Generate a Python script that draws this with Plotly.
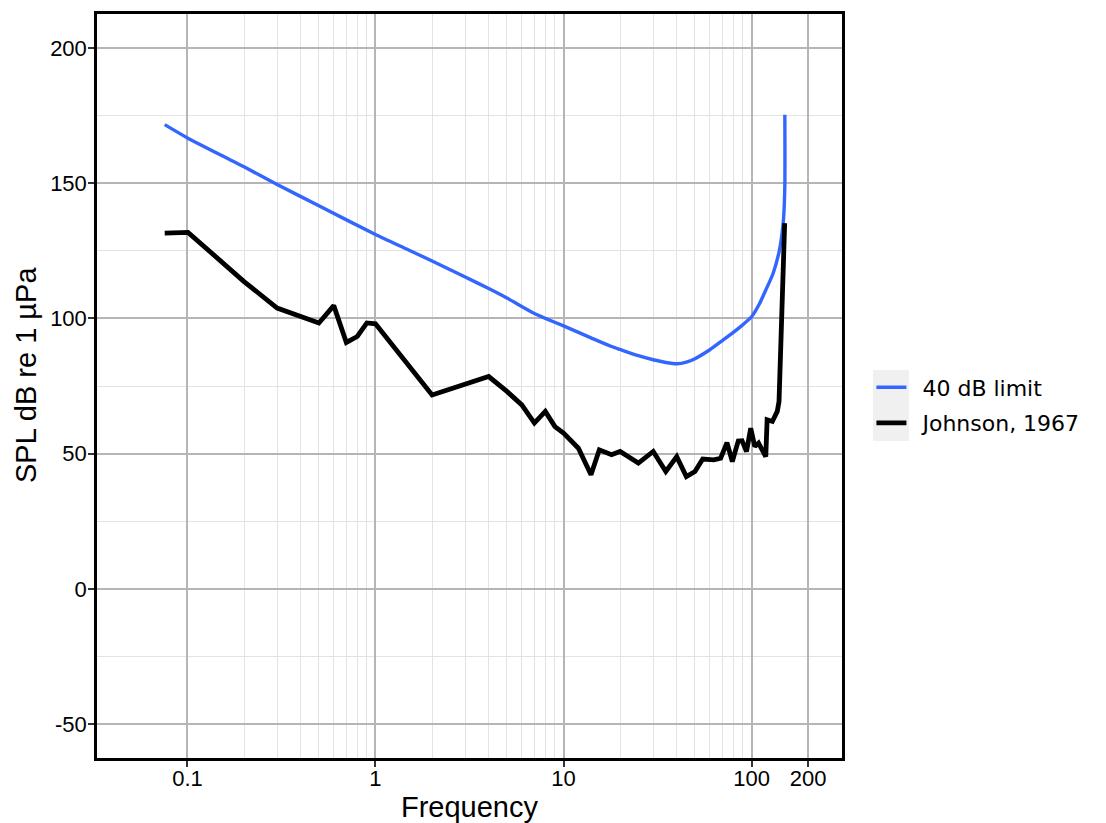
import plotly.graph_objects as go

# ---- data ----
freq_limit = [0.0757, 0.1, 0.2, 0.3, 0.5, 1, 1.5, 2, 3, 4, 5, 7, 8, 10, 14, 18, 20,
              25, 30, 35, 40, 45, 50, 60, 70, 80, 90, 100, 110, 120, 130, 140,
              145, 148, 149.5, 150.4, 150.5, 150.3]
spl_limit = [171.6, 166.7, 156.0, 149.5, 141.6, 131.0, 125.3, 121.2, 115.3, 111.0,
             107.5, 101.8, 100.0, 97.2, 92.8, 89.6, 88.5, 86.2, 84.7, 83.7, 83.2,
             83.8, 85.1, 88.4, 91.8, 94.8, 97.7, 100.6, 105.3, 111.0, 116.5, 124.5,
             131.0, 137.0, 143.0, 150.0, 162.0, 175.3]

freq_johnson = [0.0757, 0.1007, 0.2, 0.3, 0.5, 0.6, 0.7, 0.8, 0.9, 1.0, 2.0, 4.0,
                5.0, 6.0, 7.0, 8.0, 9.0, 10.0, 12.0, 14.0, 15.5, 18.0, 20.0, 25.0,
                30.0, 35.0, 40.0, 45.0, 50.0, 55.0, 63.0, 68.5, 74.0, 79.0, 85.0,
                89.0, 94.0, 99.0, 104.0, 109.0, 119.0, 121.0, 129.0, 137.0, 140.0,
                142.0, 150.0]
spl_johnson = [131.5, 131.8, 113.6, 103.8, 98.3, 104.7, 91.1, 93.3, 98.3, 98.0,
               71.7, 78.5, 73.0, 68.0, 61.3, 65.6, 60.0, 57.6, 52.0, 42.2, 51.4,
               49.6, 50.8, 46.5, 50.8, 43.4, 48.9, 41.5, 43.4, 48.0, 47.7, 48.3,
               54.1, 47.1, 54.7, 54.8, 50.8, 59.4, 52.6, 53.9, 48.9, 62.5, 61.9,
               65.6, 69.3, 82.2, 135.2]

series_names = ["40 dB limit", "Johnson, 1967"]

x_tickvals = [0.1, 1, 10, 100, 200]
x_ticktext = ["0.1", "1", "10", "100", "200"]
x_minor = [0.2, 0.3, 0.4, 0.5, 0.6, 0.7, 0.8, 0.9,
           2, 3, 4, 5, 6, 7, 8, 9,
           20, 30, 40, 50, 60, 70, 80, 90]
y_tickvals = [-50, 0, 50, 100, 150, 200]
y_ticktext = ["-50", "0", "50", "100", "150", "200"]
y_minor = [-25, 25, 75, 125, 175]

fig = go.Figure()
fig.add_trace(go.Scatter(x=freq_limit, y=spl_limit, mode="lines",
                         name="\u2002" + series_names[0], legendgroup="a",
                         line=dict(color="#3366FF", width=3.4,
                                   shape="spline", smoothing=0.6)))
fig.add_trace(go.Scatter(x=freq_johnson, y=spl_johnson, mode="lines",
                         name="\u2002" + series_names[1], legendgroup="b",
                         line=dict(color="black", width=4.8)))

# grey legend-key background (ggplot style)
fig.add_shape(type="rect", xref="paper", yref="paper",
              x0=1.0416, x1=1.0899, y0=0.4261, y1=0.5215,
              fillcolor="#F0F0F0", line=dict(width=0), layer="below")

# y axis title placed as a rotated annotation
fig.add_annotation(text="SPL dB re 1 µPa", textangle=-90,
                   xref="paper", yref="paper", x=-0.0953, y=0.5148,
                   xanchor="center", yanchor="middle", showarrow=False,
                   font=dict(size=29, color="black",
                             family="Liberation Sans, Arial"))

axis_common = dict(
    showgrid=True, gridcolor="#B5B5B5", gridwidth=1.5,
    showline=True, linecolor="black", linewidth=2.5, mirror=True,
    ticks="outside", ticklen=6, tickwidth=1.5, tickcolor="#333333",
    tickfont=dict(size=22, color="black", family="Liberation Sans, Arial"),
    zeroline=False,
)

fig.update_xaxes(type="log", range=[-1.481, 2.481],
                 tickmode="array", tickvals=x_tickvals, ticktext=x_ticktext,
                 ticklabelstandoff=-7,
                 minor=dict(tickmode="array", tickvals=x_minor, showgrid=True,
                            gridcolor="#E3E3E3", gridwidth=1, ticks=""),
                 title=dict(text="Frequency", standoff=12,
                            font=dict(size=29, color="black",
                                      family="Liberation Sans, Arial")),
                 **axis_common)
fig.update_yaxes(range=[-62.5, 212.5],
                 tickmode="array", tickvals=y_tickvals, ticktext=y_ticktext,
                 ticklabelstandoff=-3,
                 minor=dict(tickmode="array", tickvals=y_minor, showgrid=True,
                            gridcolor="#E3E3E3", gridwidth=1, ticks=""),
                 **axis_common)

fig.update_layout(
    width=1098, height=815,
    margin=dict(l=89, r=264, t=6, b=65, autoexpand=False),
    plot_bgcolor="white", paper_bgcolor="white",
    font=dict(family="Liberation Sans, Arial", color="black"),
    legend=dict(x=1.0395, y=0.4738, xanchor="left", yanchor="middle",
                bgcolor="rgba(0,0,0,0)", tracegroupgap=4,
                font=dict(size=22, family="DejaVu Sans", color="black"),
                itemwidth=30),
    showlegend=True,
)

fig.write_html("out.html")
